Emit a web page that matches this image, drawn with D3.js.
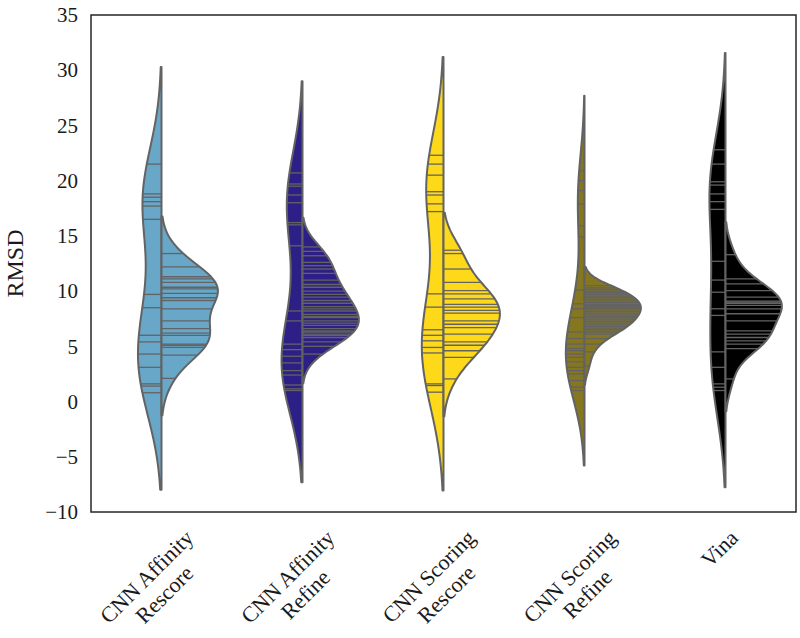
<!DOCTYPE html>
<html>
<head>
<meta charset="UTF-8">
<title>RMSD violins</title>
<script src="https://cdn.jsdelivr.net/npm/d3@7"></script>
<style type="text/css">
  body { margin: 0; background: white; }
  text { font-family: "Liberation Serif", "DejaVu Serif", serif; fill: #1a1a1a; }
</style>
</head>
<body>
<script type="text/javascript">

// categories and their labels (two lines each)
var categories = ['CNN Affinity Rescore', 'CNN Affinity Refine', 'CNN Scoring Rescore', 'CNN Scoring Refine', 'Vina'];
var labelLines = [['CNN Affinity', 'Rescore'], ['CNN Affinity', 'Refine'], ['CNN Scoring', 'Rescore'], ['CNN Scoring', 'Refine'], ['Vina']];
var colors = ['#68a7c8', '#2c1f85', '#fdd91a', '#857720', '#000000'];
var yTicks = [-10, -5, 0, 5, 10, 15, 20, 25, 30, 35];

// left halves (sticks)
var affRescoreLeft = [21.5, 18.8, 18.5, 18.1, 17.7, 16.5, 9.7, 8.5, 6.0, 5.4, 4.3, 3.1, 1.6, 1.4, 0.8];
var affRefineLeft = [20.7, 19.7, 19.5, 18.7, 18.0, 16.2, 16.0, 14.1, 8.2, 7.3, 5.2, 4.7, 4.1, 3.5, 2.8, 2.4, 1.5, 1.15, 1.0];
var scoRescoreLeft = [22.3, 21.5, 20.5, 19.0, 18.7, 17.9, 17.2, 9.75, 8.55, 6.5, 6.0, 5.5, 4.9, 4.4, 1.6, 1.45, 0.85];
var scoRefineLeft = [20.9, 20.0, 19.1, 17.9, 15.9, 14.9, 10.1, 8.85, 8.4, 7.6, 6.3, 5.7, 5.2, 4.8, 4.6, 4.3, 4.0, 3.6, 3.1, 2.8, 2.5, 1.9, 1.3, 1.0];
var vinaLeft = [22.8, 21.5, 19.9, 19.6, 18.8, 18.1, 17.4, 12.7, 11.0, 9.9, 8.4, 7.8, 4.5, 3.1, 1.6, 1.3, 1.0];

// right halves
var affRescoreRight = [13.4, 12.2, 11.3, 11.1, 10.8, 10.35, 10.2, 9.8, 9.4, 9.15, 8.4, 7.3, 6.6, 6.2, 6.0, 5.2, 5.1, 4.9, 4.2, 2.1];
var affRefineRight = [14.0, 13.6, 13.2, 12.6, 12.3, 12.0, 11.6, 11.0, 10.6, 10.35, 10.0, 9.7, 9.45, 9.15, 8.9, 8.6, 8.4, 8.2, 7.9, 7.7, 7.6, 7.3, 7.1, 6.9, 6.6, 6.4, 6.3, 6.1, 6.0, 5.8, 5.4, 5.0, 4.3];
var scoRescoreRight = [13.7, 13.4, 12.0, 10.8, 10.05, 9.75, 9.3, 8.8, 8.55, 8.25, 8.0, 7.3, 7.0, 6.7, 6.1, 5.4, 5.1, 4.6, 4.0, 2.05];
var scoRefineRight = [10.5, 10.3, 10.15, 10.0, 9.85, 9.7, 9.55, 9.4, 9.25, 9.1, 8.95, 8.8, 8.7, 8.6, 8.5, 8.4, 8.3, 8.15, 8.0, 7.85, 7.7, 7.55, 7.4, 7.25, 7.1, 6.95, 6.8, 6.65, 6.5, 6.3, 6.1, 5.7, 5.2, 4.5, 3.2];
var vinaRight = [13.3, 11.1, 10.65, 10.05, 9.45, 9.1, 9.0, 8.9, 8.7, 8.4, 7.95, 7.3, 6.4, 6.1, 5.8, 5.5, 5.2, 4.8, 2.05];

var leftData = [affRescoreLeft, affRefineLeft, scoRescoreLeft, scoRefineLeft, vinaLeft];
var rightData = [affRescoreRight, affRefineRight, scoRescoreRight, scoRefineRight, vinaRight];

var large = 800, haut = 638,
 marge = {left: 91, right: 796, top: 15, bottom: 512},
 gris = '#636363';

var svg = d3.select('body').append('svg')
  .attr('width', large)
  .attr('height', haut);

var x = d3.scaleBand()
  .domain(categories)
  .range([marge.left, marge.right]);

var y = d3.scaleLinear()
  .domain([-10, 35])
  .range([marge.bottom, marge.top]);

// gaussian kde, scott bandwidth, cut = 2, like seaborn
function kde(vals) {
  var n = vals.length;
  var bw = d3.deviation(vals) * Math.pow(n, -0.2);
  var lo = d3.min(vals) - 2 * bw, hi = d3.max(vals) + 2 * bw;
  var k = 1 / (n * bw * Math.sqrt(2 * Math.PI));
  var dens = function(v) {
    return k * d3.sum(vals, function(p) { var z = (v - p) / bw; return Math.exp(-0.5 * z * z); });
  };
  var support = d3.range(100).map(function(i) { return lo + i * (hi - lo) / 99; });
  return support.map(function(s) { return {v: s, d: dens(s)}; });
}

function nearest(curve, v) {
  var best = curve[0];
  curve.forEach(function(c) { if (Math.abs(c.v - v) < Math.abs(best.v - v)) best = c; });
  return best.d;
}

var halfW = x.bandwidth() * 0.4;

categories.forEach(function(cat, i) {
  var cx = x(cat) + x.bandwidth() / 2;
  var kl = kde(leftData[i]), kr = kde(rightData[i]);
  var dmax = Math.max(d3.max(kl, function(d) { return d.d; }), d3.max(kr, function(d) { return d.d; }));
  var w = d3.scaleLinear().domain([0, dmax]).range([0, halfW]);

  var g = svg.append('g').attr('class', 'violin');

  [[kl, leftData[i], -1], [kr, rightData[i], 1]].forEach(function(h) {
    var curve = h[0], pts = h[1], side = h[2];
    var area = d3.area()
      .y(function(d) { return y(d.v); })
      .x0(cx)
      .x1(function(d) { return cx + side * w(d.d); });
    g.append('path')
      .attr('d', area(curve))
      .attr('fill', colors[i])
      .attr('stroke', gris)
      .attr('stroke-width', 2)
      .attr('stroke-linejoin', 'round');
    g.selectAll(null)
      .data(pts).enter().append('line')
      .attr('x1', cx)
      .attr('x2', function(v) { return cx + side * w(nearest(curve, v)) * 0.99; })
      .attr('y1', function(v) { return y(v); })
      .attr('y2', function(v) { return y(v); })
      .attr('stroke', gris)
      .attr('stroke-width', 1.3);
  });
});

// frame
svg.append('rect')
  .attr('x', marge.left)
  .attr('y', marge.top)
  .attr('width', marge.right - marge.left)
  .attr('height', marge.bottom - marge.top)
  .attr('fill', 'none')
  .attr('stroke', '#262626')
  .attr('stroke-width', 1.5);

// y axis
var ay = svg.append('g')
  .attr('transform', 'translate(' + marge.left + ',0)')
  .call(d3.axisLeft(y).tickValues(yTicks).tickSize(0).tickPadding(13));
ay.select('.domain').remove();
ay.selectAll('text').style('font-size', '21px').attr('fill', '#1a1a1a');

svg.append('text')
  .attr('transform', 'translate(23,' + ((marge.top + marge.bottom) / 2) + ') rotate(-90)')
  .attr('text-anchor', 'middle')
  .style('font-size', '24px')
  .text('RMSD');

// rotated category labels, centred under each violin
categories.forEach(function(cat, i) {
  var cx = x(cat) + x.bandwidth() / 2;
  var outer = svg.append('g').attr('transform', 'translate(' + (cx - 6) + ',' + (marge.bottom + 13) + ')');
  var inner = outer.append('g').attr('transform', 'rotate(-45)');
  var t = inner.append('text')
    .attr('text-anchor', 'middle')
    .style('font-size', '22px');
  labelLines[i].forEach(function(l, j) {
    t.append('tspan').attr('x', 0).attr('dy', j == 0 ? 0 : 25).text(l);
  });
  var b = t.node().getBBox();
  var a = -Math.PI / 4;
  var pts = [[b.x, b.y], [b.x + b.width, b.y], [b.x, b.y + b.height], [b.x + b.width, b.y + b.height]]
    .map(function(p) { return [p[0] * Math.cos(a) - p[1] * Math.sin(a), p[0] * Math.sin(a) + p[1] * Math.cos(a)]; });
  var mx = (d3.min(pts, function(p) { return p[0]; }) + d3.max(pts, function(p) { return p[0]; })) / 2;
  var my = d3.min(pts, function(p) { return p[1]; });
  inner.attr('transform', 'translate(' + (-mx) + ',' + (-my) + ') rotate(-45)');
});

</script>
</body>
</html>
